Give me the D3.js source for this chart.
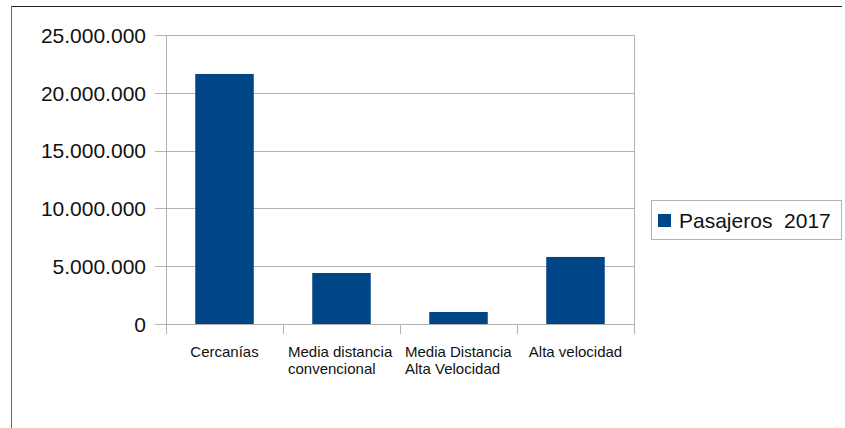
<!DOCTYPE html>
<html>
<head>
<meta charset="utf-8">
<script src="https://cdn.jsdelivr.net/npm/d3@7"></script>
<style>
  html, body { margin: 0; padding: 0; background: #fff; }
  svg { display: block; font-family: "Liberation Sans", Arial, sans-serif; }
</style>
</head>
<body>
<svg id="chart" width="845" height="428"></svg>
<script>
// Passenger counts per service type, 2017
const categories = [
  ["Cercanías"],
  ["Media distancia", "convencional"],
  ["Media Distancia", "Alta Velocidad"],
  ["Alta velocidad"]
];
const seriesName = "Pasajeros  2017";
const passengers = [21630000, 4410000, 1040000, 5800000];
const yTicks = [0, 5000000, 10000000, 15000000, 20000000, 25000000];

const svg = d3.select("#chart");
const plot = { left: 166, right: 634, top: 35, bottom: 324 };
const barColor = "#004586";
const gridColor = "#b3b3b3";

const esLocale = d3.formatLocale({ decimal: ",", thousands: ".", grouping: [3], currency: ["", " €"] });
const fmt = esLocale.format(",");

const x = d3.scaleBand()
  .domain(d3.range(categories.length))
  .range([plot.left, plot.right])
  .paddingInner(0.5)
  .paddingOuter(0.25);

const y = d3.scaleLinear()
  .domain([0, 25000000])
  .range([plot.bottom, plot.top]);

// Outer frame (top and left edges)
svg.append("line").attr("x1", 11).attr("x2", 842).attr("y1", 6.5).attr("y2", 6.5)
  .attr("stroke", "#222").attr("stroke-width", 1);
svg.append("line").attr("x1", 11.5).attr("x2", 11.5).attr("y1", 6).attr("y2", 428)
  .attr("stroke", "#666").attr("stroke-width", 1);

// Horizontal gridlines with left tick marks
const grid = svg.append("g");
yTicks.forEach(t => {
  const yy = Math.round(y(t)) + 0.5;
  grid.append("line").attr("x1", 155).attr("x2", plot.right).attr("y1", yy).attr("y2", yy)
    .attr("stroke", gridColor).attr("stroke-width", 1);
});

// Y axis labels
const yAxis = d3.axisLeft(y).tickValues(yTicks).tickFormat(fmt).tickSize(0).tickPadding(0);
const yg = svg.append("g").attr("transform", `translate(${146},0)`).call(yAxis);
yg.select(".domain").remove();
yg.selectAll("text")
  .attr("font-size", 21)
  .attr("fill", "#111")
  .attr("font-family", "'Liberation Sans', Arial, sans-serif")
  .attr("dy", "0.35em");

// Vertical axis lines (left axis and right plot edge)
[plot.left, plot.right].forEach(px => {
  svg.append("line").attr("x1", px + 0.5).attr("x2", px + 0.5)
    .attr("y1", plot.top).attr("y2", plot.bottom + 10)
    .attr("stroke", gridColor).attr("stroke-width", 1);
});

// Category boundary tick marks below the baseline
const step = x.step();
const bounds = d3.range(categories.length + 1).map(i => plot.left + i * step);
bounds.forEach(bx => {
  svg.append("line").attr("x1", Math.round(bx) + 0.5).attr("x2", Math.round(bx) + 0.5)
    .attr("y1", plot.bottom).attr("y2", plot.bottom + 10)
    .attr("stroke", gridColor).attr("stroke-width", 1);
});

// Bars
svg.append("g").selectAll("rect")
  .data(passengers)
  .join("rect")
  .attr("x", (d, i) => x(i))
  .attr("width", x.bandwidth())
  .attr("y", d => y(d))
  .attr("height", d => y(0) - y(d))
  .attr("fill", barColor);

// Category labels
const catG = svg.append("g");
categories.forEach((lines, i) => {
  const cx = x(i) + x.bandwidth() / 2;
  const t = catG.append("text")
    .attr("x", cx)
    .attr("y", 357)
    .attr("font-size", 15)
    .attr("fill", "#111")
    .attr("text-anchor", lines.length > 1 ? "start" : "middle");
  const left = plot.left + i * step + 5;
  lines.forEach((ln, j) => {
    t.append("tspan")
      .attr("x", lines.length > 1 ? left : cx)
      .attr("dy", j === 0 ? 0 : 17)
      .text(ln);
  });
});

// Legend
const lg = svg.append("g");
lg.append("rect").attr("x", 651.5).attr("y", 200.5).attr("width", 190).attr("height", 39)
  .attr("fill", "#fff").attr("stroke", gridColor).attr("stroke-width", 1);
lg.append("rect").attr("x", 658).attr("y", 214).attr("width", 13).attr("height", 13)
  .attr("fill", barColor);
lg.append("text").attr("x", 679).attr("y", 228)
  .attr("font-size", 21).attr("fill", "#111")
  .attr("xml:space", "preserve")
  .style("white-space", "pre")
  .text(seriesName);
</script>
</body>
</html>
